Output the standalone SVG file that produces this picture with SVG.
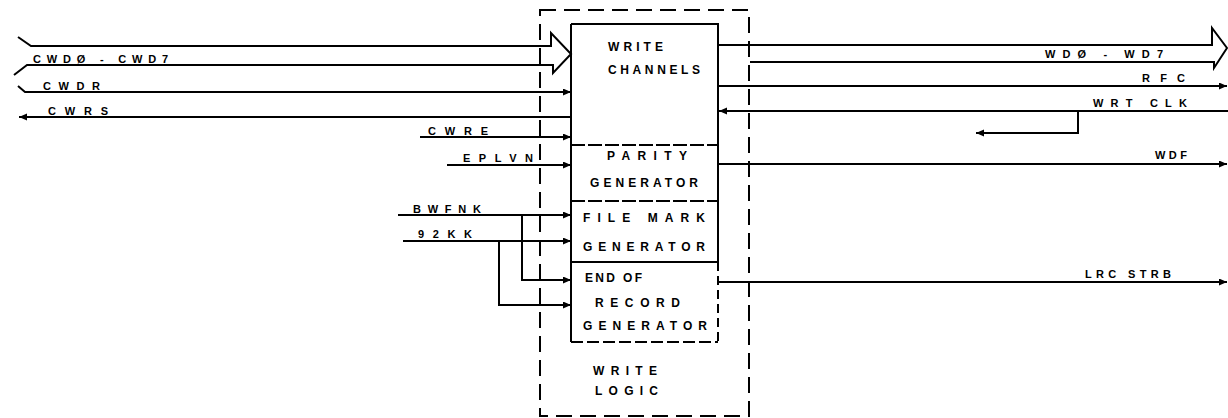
<svg xmlns="http://www.w3.org/2000/svg" width="1228" height="418" viewBox="0 0 1228 418">
<style>
  .ln { fill: none; stroke: #000; stroke-width: 2; }
  .dash { fill: none; stroke: #000; stroke-width: 2; stroke-dasharray: 16 8; }
  .dsep { fill: none; stroke: #000; stroke-width: 2; stroke-dasharray: 14 3; }
  .lbl { font-family: "Liberation Sans", Arial, sans-serif; font-size: 11px; font-weight: bold; fill: #000; }
  .blk { font-family: "Liberation Sans", Arial, sans-serif; font-size: 12px; font-weight: bold; fill: #000; }
</style>
<defs>
  <marker id="ah" markerUnits="userSpaceOnUse" markerWidth="9" markerHeight="8" refX="8" refY="3.5" orient="auto">
    <path d="M0 0 L8 3.5 L0 7 Z" fill="#000"/>
  </marker>
</defs>
<rect width="1228" height="418" fill="#fff"/>

<g id="write-logic">
  <rect class="dash" x="540" y="10" width="209" height="406"/>
  <text class="blk" x="593" y="375" textLength="64" lengthAdjust="spacing">WRITE</text>
  <text class="blk" x="595" y="395" textLength="63" lengthAdjust="spacing">LOGIC</text>
</g>

<g id="write-channels">
  <path class="ln" d="M571 24 H718 V145"/>
  <path class="ln" d="M571 24 V145"/>
  <text class="blk" x="608" y="51" textLength="55" lengthAdjust="spacing">WRITE</text>
  <text class="blk" x="608" y="74" textLength="92" lengthAdjust="spacing">CHANNELS</text>
</g>

<g id="parity-generator">
  <path class="dsep" d="M571 145 H718"/>
  <path class="ln" d="M571 145 V201 M718 145 V201"/>
  <text class="blk" x="607" y="160" textLength="80" lengthAdjust="spacing">PARITY</text>
  <text class="blk" x="590" y="187" textLength="108" lengthAdjust="spacing">GENERATOR</text>
</g>

<g id="file-mark-generator">
  <path class="dsep" d="M571 201 H718"/>
  <path class="ln" d="M571 201 V262 M718 201 V262 M571 262 H718"/>
  <text class="blk" x="583" y="222" textLength="122" lengthAdjust="spacing">FILE  MARK</text>
  <text class="blk" x="583" y="251" textLength="122" lengthAdjust="spacing">GENERATOR</text>
</g>

<g id="end-of-record-generator">
  <path class="ln" d="M571 262 V342"/>
  <path class="ln" d="M718 262 V342" stroke-dasharray="9 5"/>
  <path class="ln" d="M571 342 H718" stroke-dasharray="12 4"/>
  <text class="blk" x="585" y="282" textLength="57" lengthAdjust="spacing">END  OF</text>
  <text class="blk" x="595" y="307" textLength="85" lengthAdjust="spacing">RECORD</text>
  <text class="blk" x="583" y="330" textLength="124" lengthAdjust="spacing">GENERATOR</text>
</g>

<g id="connectors">
  <path class="ln" d="M18 37 L31 46 L551 46 L551 33 L571 54 L553 73 L553 65 L27 65 L14 75"/>
  <path class="ln" d="M18 86 L25 92 L571 92" marker-end="url(#ah)"/>
  <path class="ln" d="M571 117 L19 117" marker-end="url(#ah)"/>
  <path class="ln" d="M420 137 L571 137" marker-end="url(#ah)"/>
  <path class="ln" d="M447 165 L571 165" marker-end="url(#ah)"/>
  <path class="ln" d="M398 215 L571 215" marker-end="url(#ah)"/>
  <path class="ln" d="M403 241 L571 241" marker-end="url(#ah)"/>
  <path class="ln" d="M522 215 V280 H571" marker-end="url(#ah)"/>
  <path class="ln" d="M499 241 V305 H571" marker-end="url(#ah)"/>
  <path class="ln" d="M718 45 L1212 45 L1212 28 L1227 48 L1214 68 L1214 62 L750 62"/>
  <path class="ln" d="M718 86 H1227" marker-end="url(#ah)"/>
  <path class="ln" d="M1228 111 H719" marker-end="url(#ah)"/>
  <path class="ln" d="M1078 111 V133 H976" marker-end="url(#ah)"/>
  <path class="ln" d="M718 164 H1227" marker-end="url(#ah)"/>
  <path class="ln" d="M718 282 H1227" marker-end="url(#ah)"/>
</g>

<g id="labels">
  <text class="lbl" x="33" y="63" textLength="135" lengthAdjust="spacing">CWDØ - CWD7</text>
  <text class="lbl" x="43" y="90" textLength="57" lengthAdjust="spacing">CWDR</text>
  <text class="lbl" x="48" y="115" textLength="60" lengthAdjust="spacing">CWRS</text>
  <text class="lbl" x="428" y="135" textLength="60" lengthAdjust="spacing">CWRE</text>
  <text class="lbl" x="463" y="162" textLength="70" lengthAdjust="spacing">EPLVN</text>
  <text class="lbl" x="413" y="213" textLength="68" lengthAdjust="spacing">BWFNK</text>
  <text class="lbl" x="418" y="238" textLength="54" lengthAdjust="spacing">92KK</text>
  <text class="lbl" x="1045" y="58" textLength="118" lengthAdjust="spacing">WDØ - WD7</text>
  <text class="lbl" x="1142" y="82" textLength="43" lengthAdjust="spacing">RFC</text>
  <text class="lbl" x="1093" y="107" textLength="94" lengthAdjust="spacing">WRT  CLK</text>
  <text class="lbl" x="1155" y="159" textLength="32" lengthAdjust="spacing">WDF</text>
  <text class="lbl" x="1085" y="278" textLength="86" lengthAdjust="spacing">LRC  STRB</text>
</g>
</svg>
